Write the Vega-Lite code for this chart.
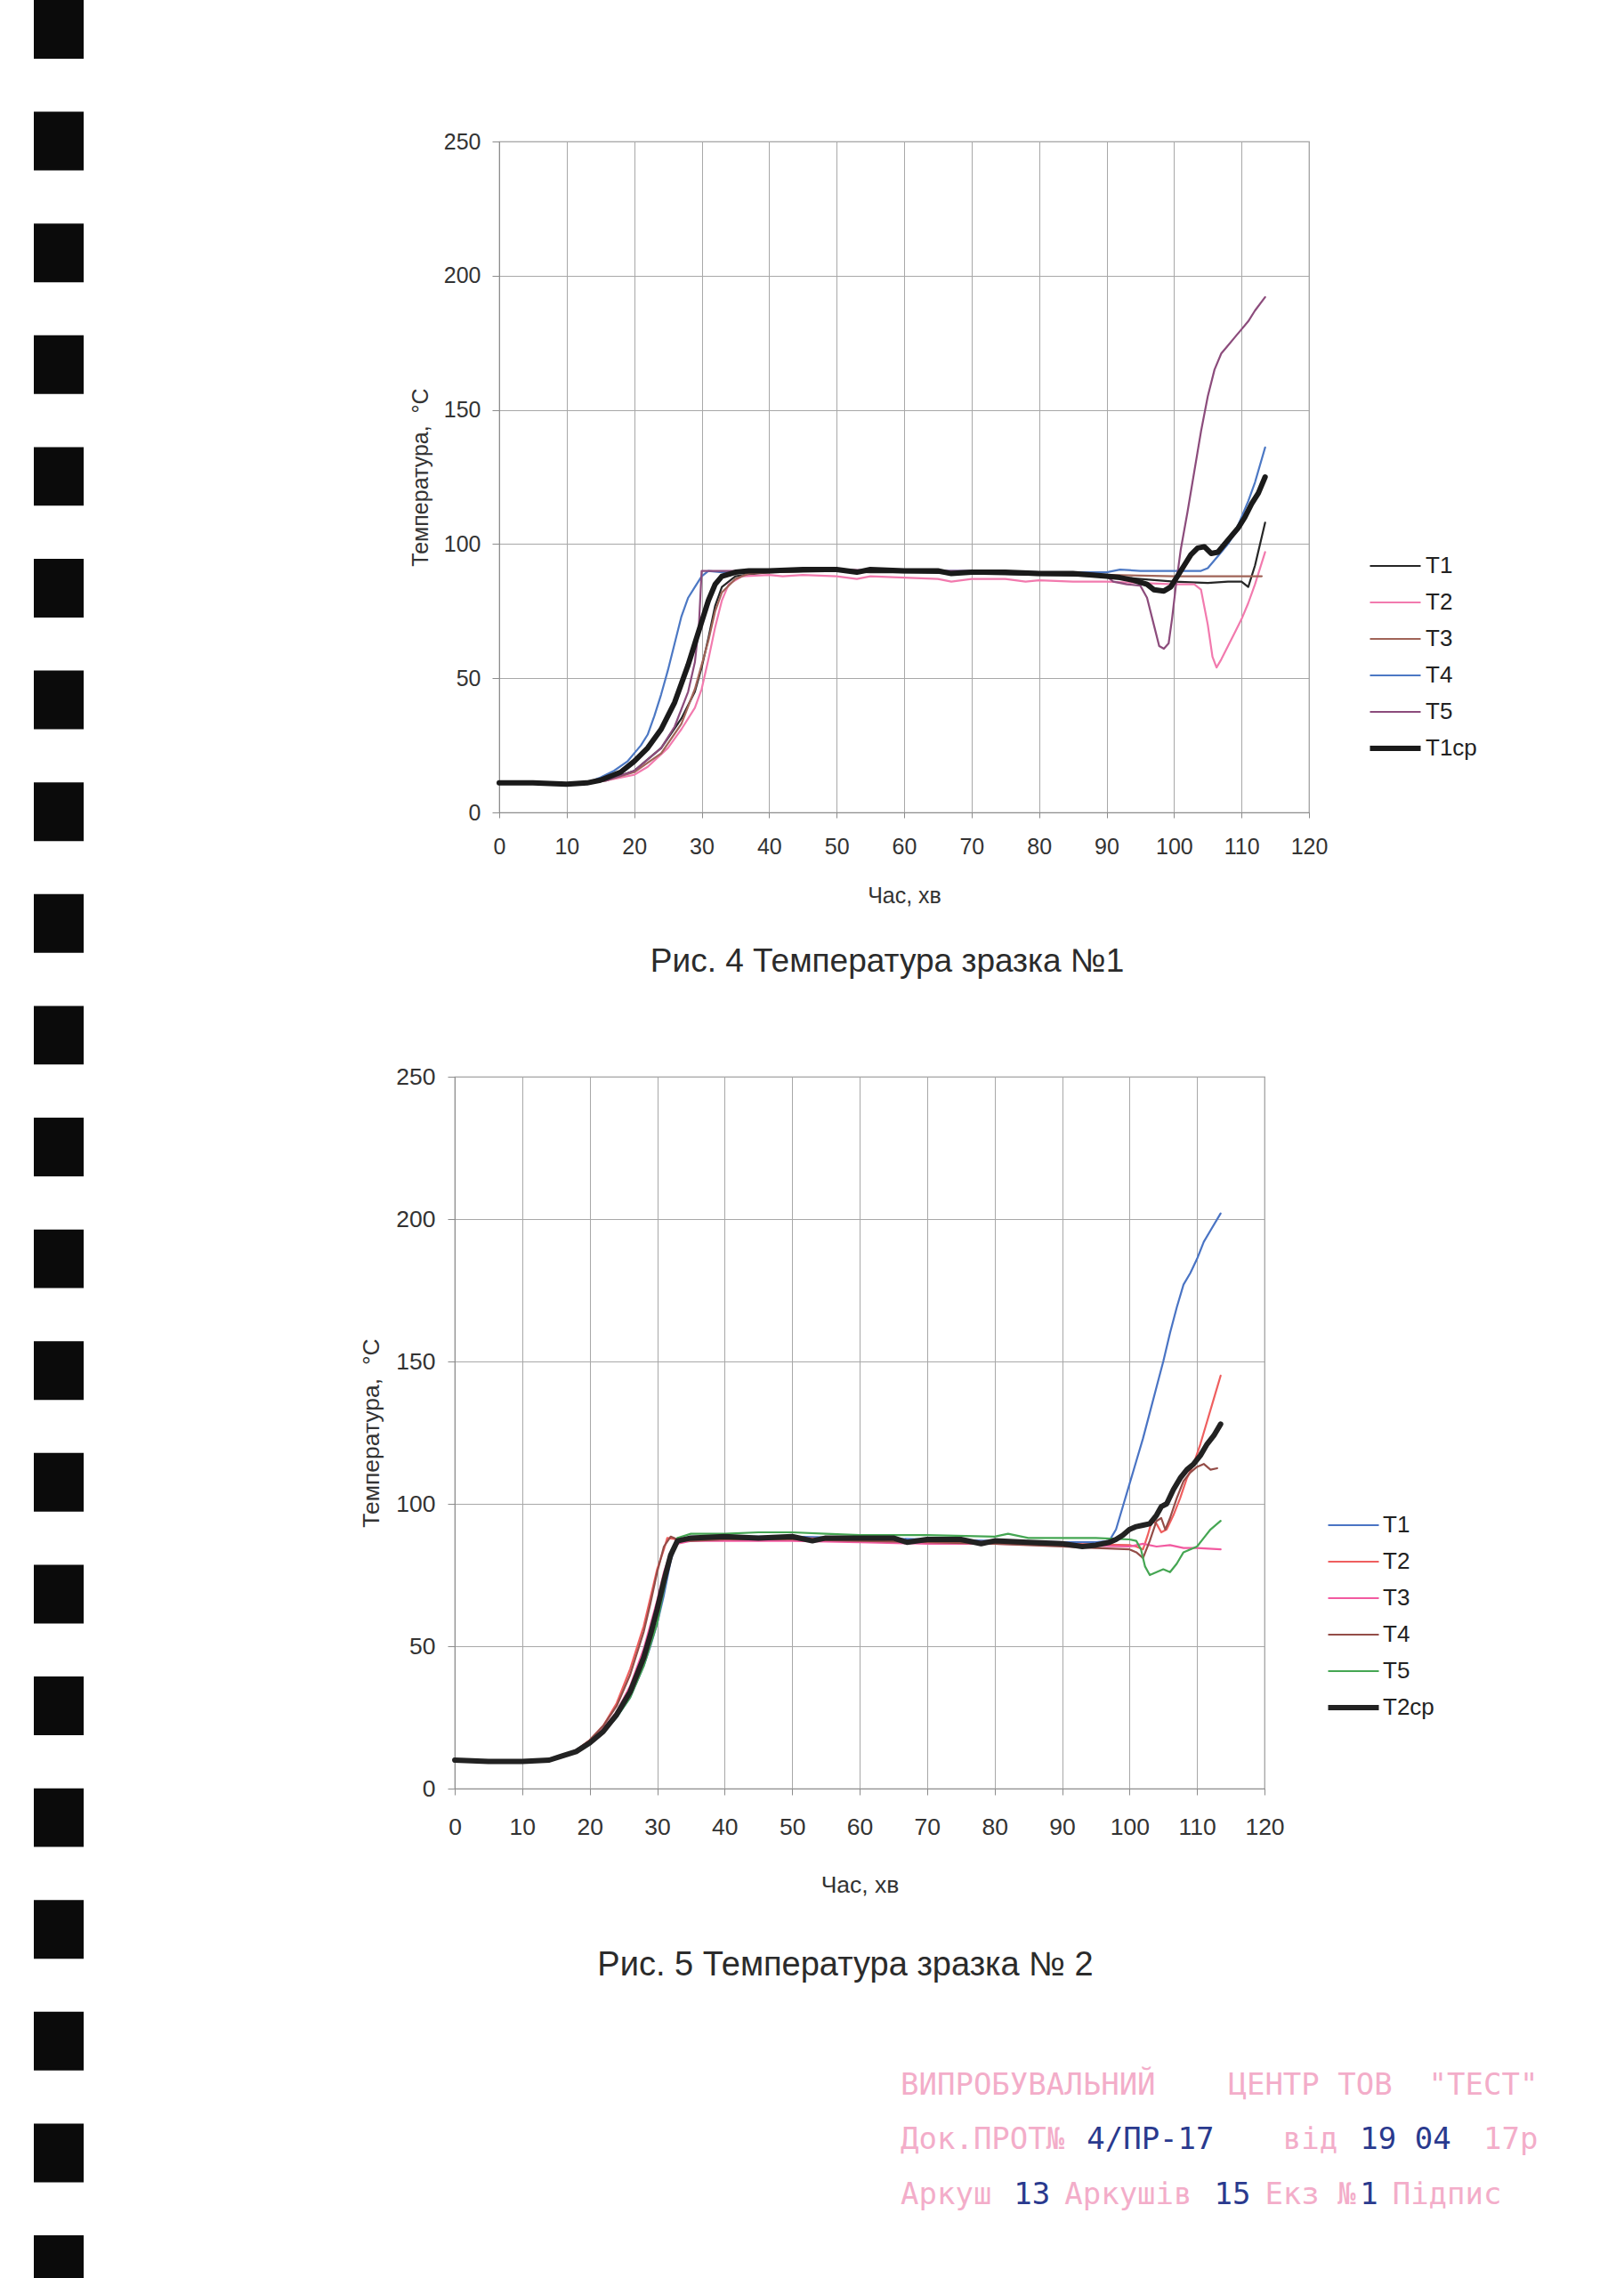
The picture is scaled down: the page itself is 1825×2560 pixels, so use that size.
{
  "$schema": "https://vega.github.io/schema/vega-lite/v6.json",
  "background": "white",
  "padding": {"left": 38, "top": 0, "right": 0, "bottom": 0},
  "datasets": {
    "holes": [
      {"hole": 1}, {"hole": 2}, {"hole": 3}, {"hole": 4}, {"hole": 5}, {"hole": 6}, {"hole": 7},
      {"hole": 8}, {"hole": 9}, {"hole": 10}, {"hole": 11}, {"hole": 12}, {"hole": 13}, {"hole": 14},
      {"hole": 15}, {"hole": 16}, {"hole": 17}, {"hole": 18}, {"hole": 19}, {"hole": 20}, {"hole": 21}
    ],
    "s1": [
      {"s": "T1", "t": 0, "T": 11}, {"s": "T1", "t": 5, "T": 11}, {"s": "T1", "t": 10, "T": 10.5}, {"s": "T1", "t": 13, "T": 11},
      {"s": "T1", "t": 16, "T": 12}, {"s": "T1", "t": 20, "T": 15.5}, {"s": "T1", "t": 24, "T": 24}, {"s": "T1", "t": 27, "T": 35},
      {"s": "T1", "t": 29, "T": 45}, {"s": "T1", "t": 30, "T": 54}, {"s": "T1", "t": 31, "T": 65}, {"s": "T1", "t": 32, "T": 77},
      {"s": "T1", "t": 33, "T": 84}, {"s": "T1", "t": 35, "T": 88}, {"s": "T1", "t": 38, "T": 89}, {"s": "T1", "t": 40, "T": 89.5},
      {"s": "T1", "t": 50, "T": 90}, {"s": "T1", "t": 55, "T": 89.5}, {"s": "T1", "t": 60, "T": 89.5}, {"s": "T1", "t": 70, "T": 89},
      {"s": "T1", "t": 80, "T": 88.5}, {"s": "T1", "t": 90, "T": 88}, {"s": "T1", "t": 95, "T": 87}, {"s": "T1", "t": 100, "T": 86},
      {"s": "T1", "t": 105, "T": 85.5}, {"s": "T1", "t": 108, "T": 86}, {"s": "T1", "t": 110, "T": 86}, {"s": "T1", "t": 111, "T": 84},
      {"s": "T1", "t": 112, "T": 92}, {"s": "T1", "t": 113.5, "T": 108},

      {"s": "T2", "t": 0, "T": 11}, {"s": "T2", "t": 5, "T": 11}, {"s": "T2", "t": 10, "T": 10.5}, {"s": "T2", "t": 13, "T": 11},
      {"s": "T2", "t": 16, "T": 12}, {"s": "T2", "t": 20, "T": 14}, {"s": "T2", "t": 22, "T": 17}, {"s": "T2", "t": 25, "T": 24},
      {"s": "T2", "t": 27, "T": 31}, {"s": "T2", "t": 29, "T": 39}, {"s": "T2", "t": 30, "T": 46}, {"s": "T2", "t": 31, "T": 57},
      {"s": "T2", "t": 32, "T": 69}, {"s": "T2", "t": 33, "T": 79}, {"s": "T2", "t": 34, "T": 85}, {"s": "T2", "t": 36, "T": 88},
      {"s": "T2", "t": 40, "T": 88.5}, {"s": "T2", "t": 42, "T": 88}, {"s": "T2", "t": 45, "T": 88.5}, {"s": "T2", "t": 50, "T": 88},
      {"s": "T2", "t": 53, "T": 87}, {"s": "T2", "t": 55, "T": 88}, {"s": "T2", "t": 60, "T": 87.5}, {"s": "T2", "t": 65, "T": 87},
      {"s": "T2", "t": 67, "T": 86}, {"s": "T2", "t": 70, "T": 87}, {"s": "T2", "t": 75, "T": 87}, {"s": "T2", "t": 78, "T": 86},
      {"s": "T2", "t": 80, "T": 86.5}, {"s": "T2", "t": 85, "T": 86}, {"s": "T2", "t": 90, "T": 86}, {"s": "T2", "t": 95, "T": 85.5},
      {"s": "T2", "t": 100, "T": 85}, {"s": "T2", "t": 103, "T": 85}, {"s": "T2", "t": 104, "T": 83}, {"s": "T2", "t": 105, "T": 70},
      {"s": "T2", "t": 105.7, "T": 58}, {"s": "T2", "t": 106.3, "T": 54}, {"s": "T2", "t": 107, "T": 57}, {"s": "T2", "t": 108, "T": 62},
      {"s": "T2", "t": 109, "T": 67}, {"s": "T2", "t": 110, "T": 72}, {"s": "T2", "t": 111, "T": 78}, {"s": "T2", "t": 112, "T": 85},
      {"s": "T2", "t": 113.5, "T": 97},

      {"s": "T3", "t": 0, "T": 11}, {"s": "T3", "t": 5, "T": 11}, {"s": "T3", "t": 10, "T": 10.5}, {"s": "T3", "t": 13, "T": 11},
      {"s": "T3", "t": 16, "T": 12}, {"s": "T3", "t": 20, "T": 15}, {"s": "T3", "t": 24, "T": 22}, {"s": "T3", "t": 27, "T": 33},
      {"s": "T3", "t": 29, "T": 46}, {"s": "T3", "t": 31, "T": 64}, {"s": "T3", "t": 32, "T": 75}, {"s": "T3", "t": 33, "T": 82},
      {"s": "T3", "t": 35, "T": 87}, {"s": "T3", "t": 37, "T": 89}, {"s": "T3", "t": 40, "T": 89.5}, {"s": "T3", "t": 45, "T": 90},
      {"s": "T3", "t": 50, "T": 90.5}, {"s": "T3", "t": 55, "T": 90}, {"s": "T3", "t": 60, "T": 90}, {"s": "T3", "t": 70, "T": 89.5},
      {"s": "T3", "t": 80, "T": 89}, {"s": "T3", "t": 90, "T": 88.5}, {"s": "T3", "t": 100, "T": 88}, {"s": "T3", "t": 105, "T": 88},
      {"s": "T3", "t": 110, "T": 88}, {"s": "T3", "t": 113, "T": 88},

      {"s": "T4", "t": 0, "T": 11}, {"s": "T4", "t": 5, "T": 11}, {"s": "T4", "t": 10, "T": 10.5}, {"s": "T4", "t": 13, "T": 11},
      {"s": "T4", "t": 15, "T": 13}, {"s": "T4", "t": 17, "T": 15.5}, {"s": "T4", "t": 19, "T": 19}, {"s": "T4", "t": 20, "T": 22},
      {"s": "T4", "t": 21, "T": 25}, {"s": "T4", "t": 22, "T": 29}, {"s": "T4", "t": 23, "T": 36}, {"s": "T4", "t": 24, "T": 44},
      {"s": "T4", "t": 25, "T": 53}, {"s": "T4", "t": 26, "T": 63}, {"s": "T4", "t": 27, "T": 73}, {"s": "T4", "t": 28, "T": 80},
      {"s": "T4", "t": 29, "T": 84}, {"s": "T4", "t": 30, "T": 88}, {"s": "T4", "t": 31, "T": 90}, {"s": "T4", "t": 33, "T": 89.5},
      {"s": "T4", "t": 35, "T": 89.5}, {"s": "T4", "t": 40, "T": 90}, {"s": "T4", "t": 50, "T": 90}, {"s": "T4", "t": 60, "T": 90},
      {"s": "T4", "t": 70, "T": 90}, {"s": "T4", "t": 80, "T": 89.5}, {"s": "T4", "t": 90, "T": 89.5}, {"s": "T4", "t": 92, "T": 90.5},
      {"s": "T4", "t": 95, "T": 90}, {"s": "T4", "t": 100, "T": 90}, {"s": "T4", "t": 104, "T": 90}, {"s": "T4", "t": 105, "T": 91},
      {"s": "T4", "t": 106, "T": 94}, {"s": "T4", "t": 107, "T": 97}, {"s": "T4", "t": 108, "T": 100}, {"s": "T4", "t": 109, "T": 104},
      {"s": "T4", "t": 110, "T": 110}, {"s": "T4", "t": 111, "T": 116}, {"s": "T4", "t": 112, "T": 123}, {"s": "T4", "t": 113.5, "T": 136},

      {"s": "T5", "t": 0, "T": 11}, {"s": "T5", "t": 5, "T": 11}, {"s": "T5", "t": 10, "T": 10.5}, {"s": "T5", "t": 13, "T": 11},
      {"s": "T5", "t": 16, "T": 12}, {"s": "T5", "t": 20, "T": 15.5}, {"s": "T5", "t": 24, "T": 24}, {"s": "T5", "t": 26, "T": 32},
      {"s": "T5", "t": 28, "T": 45}, {"s": "T5", "t": 29, "T": 56}, {"s": "T5", "t": 29.6, "T": 70}, {"s": "T5", "t": 30, "T": 90},
      {"s": "T5", "t": 33, "T": 90}, {"s": "T5", "t": 40, "T": 90}, {"s": "T5", "t": 50, "T": 90.5}, {"s": "T5", "t": 60, "T": 90},
      {"s": "T5", "t": 70, "T": 90}, {"s": "T5", "t": 80, "T": 89.5}, {"s": "T5", "t": 88, "T": 89}, {"s": "T5", "t": 90, "T": 88},
      {"s": "T5", "t": 91, "T": 86}, {"s": "T5", "t": 93, "T": 85}, {"s": "T5", "t": 95, "T": 84.5}, {"s": "T5", "t": 96, "T": 80},
      {"s": "T5", "t": 97, "T": 70}, {"s": "T5", "t": 97.8, "T": 62}, {"s": "T5", "t": 98.5, "T": 61}, {"s": "T5", "t": 99.2, "T": 63},
      {"s": "T5", "t": 99.7, "T": 72}, {"s": "T5", "t": 100.3, "T": 85}, {"s": "T5", "t": 101, "T": 98}, {"s": "T5", "t": 102, "T": 112},
      {"s": "T5", "t": 103, "T": 127}, {"s": "T5", "t": 104, "T": 142}, {"s": "T5", "t": 105, "T": 155}, {"s": "T5", "t": 106, "T": 165},
      {"s": "T5", "t": 107, "T": 171}, {"s": "T5", "t": 108, "T": 174}, {"s": "T5", "t": 109, "T": 177}, {"s": "T5", "t": 110, "T": 180},
      {"s": "T5", "t": 111, "T": 183}, {"s": "T5", "t": 112, "T": 187}, {"s": "T5", "t": 113.5, "T": 192},

      {"s": "T1ср", "t": 0, "T": 11}, {"s": "T1ср", "t": 5, "T": 11}, {"s": "T1ср", "t": 10, "T": 10.5}, {"s": "T1ср", "t": 13, "T": 11},
      {"s": "T1ср", "t": 15, "T": 12}, {"s": "T1ср", "t": 18, "T": 15}, {"s": "T1ср", "t": 20, "T": 19}, {"s": "T1ср", "t": 22, "T": 24},
      {"s": "T1ср", "t": 24, "T": 31}, {"s": "T1ср", "t": 26, "T": 41}, {"s": "T1ср", "t": 28, "T": 55}, {"s": "T1ср", "t": 29, "T": 63},
      {"s": "T1ср", "t": 30, "T": 71}, {"s": "T1ср", "t": 31, "T": 79}, {"s": "T1ср", "t": 32, "T": 85}, {"s": "T1ср", "t": 33, "T": 88},
      {"s": "T1ср", "t": 35, "T": 89.5}, {"s": "T1ср", "t": 37, "T": 90}, {"s": "T1ср", "t": 40, "T": 90}, {"s": "T1ср", "t": 45, "T": 90.5},
      {"s": "T1ср", "t": 50, "T": 90.5}, {"s": "T1ср", "t": 53, "T": 89.5}, {"s": "T1ср", "t": 55, "T": 90.5}, {"s": "T1ср", "t": 60, "T": 90},
      {"s": "T1ср", "t": 65, "T": 90}, {"s": "T1ср", "t": 67, "T": 89}, {"s": "T1ср", "t": 70, "T": 89.5}, {"s": "T1ср", "t": 75, "T": 89.5},
      {"s": "T1ср", "t": 80, "T": 89}, {"s": "T1ср", "t": 85, "T": 89}, {"s": "T1ср", "t": 90, "T": 88}, {"s": "T1ср", "t": 92, "T": 87.5},
      {"s": "T1ср", "t": 94, "T": 86.5}, {"s": "T1ср", "t": 96, "T": 85}, {"s": "T1ср", "t": 97, "T": 83}, {"s": "T1ср", "t": 98.5, "T": 82.5},
      {"s": "T1ср", "t": 99.5, "T": 84}, {"s": "T1ср", "t": 100.5, "T": 88}, {"s": "T1ср", "t": 101.5, "T": 92}, {"s": "T1ср", "t": 102.5, "T": 96},
      {"s": "T1ср", "t": 103.5, "T": 98.5}, {"s": "T1ср", "t": 104.5, "T": 99}, {"s": "T1ср", "t": 105.5, "T": 96.5}, {"s": "T1ср", "t": 106.5, "T": 97},
      {"s": "T1ср", "t": 107.5, "T": 100}, {"s": "T1ср", "t": 108.5, "T": 103}, {"s": "T1ср", "t": 109.5, "T": 106}, {"s": "T1ср", "t": 110.5, "T": 110},
      {"s": "T1ср", "t": 111.5, "T": 115}, {"s": "T1ср", "t": 112.5, "T": 119}, {"s": "T1ср", "t": 113.5, "T": 125}
    ],
    "s2": [
      {"s": "T1", "t": 0, "T": 10}, {"s": "T1", "t": 5, "T": 9.5}, {"s": "T1", "t": 10, "T": 9.5}, {"s": "T1", "t": 14, "T": 10},
      {"s": "T1", "t": 16, "T": 11.5}, {"s": "T1", "t": 18, "T": 13}, {"s": "T1", "t": 20, "T": 16}, {"s": "T1", "t": 22, "T": 20},
      {"s": "T1", "t": 24, "T": 25}, {"s": "T1", "t": 26, "T": 32}, {"s": "T1", "t": 28, "T": 43}, {"s": "T1", "t": 29, "T": 50},
      {"s": "T1", "t": 30, "T": 58}, {"s": "T1", "t": 31, "T": 68}, {"s": "T1", "t": 32, "T": 80}, {"s": "T1", "t": 33, "T": 87},
      {"s": "T1", "t": 35, "T": 88.5}, {"s": "T1", "t": 40, "T": 88.5}, {"s": "T1", "t": 50, "T": 88.5}, {"s": "T1", "t": 60, "T": 88},
      {"s": "T1", "t": 70, "T": 87.5}, {"s": "T1", "t": 80, "T": 87}, {"s": "T1", "t": 90, "T": 86.5}, {"s": "T1", "t": 95, "T": 86.5},
      {"s": "T1", "t": 97, "T": 87}, {"s": "T1", "t": 98, "T": 91}, {"s": "T1", "t": 99, "T": 99}, {"s": "T1", "t": 100, "T": 107},
      {"s": "T1", "t": 101, "T": 115}, {"s": "T1", "t": 102, "T": 123}, {"s": "T1", "t": 103, "T": 132}, {"s": "T1", "t": 104, "T": 141},
      {"s": "T1", "t": 105, "T": 150}, {"s": "T1", "t": 106, "T": 160}, {"s": "T1", "t": 107, "T": 169}, {"s": "T1", "t": 108, "T": 177},
      {"s": "T1", "t": 109, "T": 181}, {"s": "T1", "t": 110, "T": 186}, {"s": "T1", "t": 111, "T": 192}, {"s": "T1", "t": 112, "T": 196},
      {"s": "T1", "t": 113.5, "T": 202},

      {"s": "T2", "t": 0, "T": 10}, {"s": "T2", "t": 5, "T": 9.5}, {"s": "T2", "t": 10, "T": 9.5}, {"s": "T2", "t": 14, "T": 10},
      {"s": "T2", "t": 16, "T": 11.5}, {"s": "T2", "t": 18, "T": 13.5}, {"s": "T2", "t": 20, "T": 17}, {"s": "T2", "t": 22, "T": 22},
      {"s": "T2", "t": 24, "T": 30}, {"s": "T2", "t": 26, "T": 42}, {"s": "T2", "t": 28, "T": 57}, {"s": "T2", "t": 29, "T": 67},
      {"s": "T2", "t": 30, "T": 77}, {"s": "T2", "t": 31, "T": 84}, {"s": "T2", "t": 31.5, "T": 88}, {"s": "T2", "t": 33, "T": 87.5},
      {"s": "T2", "t": 35, "T": 88}, {"s": "T2", "t": 40, "T": 88}, {"s": "T2", "t": 50, "T": 88}, {"s": "T2", "t": 60, "T": 87.5},
      {"s": "T2", "t": 70, "T": 87}, {"s": "T2", "t": 80, "T": 86.5}, {"s": "T2", "t": 90, "T": 86}, {"s": "T2", "t": 100, "T": 85.5},
      {"s": "T2", "t": 101, "T": 85}, {"s": "T2", "t": 102, "T": 84}, {"s": "T2", "t": 102.7, "T": 89}, {"s": "T2", "t": 103.3, "T": 94},
      {"s": "T2", "t": 104, "T": 93}, {"s": "T2", "t": 104.7, "T": 90}, {"s": "T2", "t": 105.5, "T": 91}, {"s": "T2", "t": 106.5, "T": 96},
      {"s": "T2", "t": 107.5, "T": 102}, {"s": "T2", "t": 108.5, "T": 109}, {"s": "T2", "t": 109.5, "T": 114}, {"s": "T2", "t": 110.5, "T": 121},
      {"s": "T2", "t": 111.5, "T": 129}, {"s": "T2", "t": 112.5, "T": 137}, {"s": "T2", "t": 113.5, "T": 145},

      {"s": "T3", "t": 0, "T": 10}, {"s": "T3", "t": 5, "T": 9.5}, {"s": "T3", "t": 10, "T": 9.5}, {"s": "T3", "t": 14, "T": 10},
      {"s": "T3", "t": 16, "T": 11.5}, {"s": "T3", "t": 18, "T": 13}, {"s": "T3", "t": 20, "T": 16}, {"s": "T3", "t": 22, "T": 21},
      {"s": "T3", "t": 24, "T": 27}, {"s": "T3", "t": 26, "T": 36}, {"s": "T3", "t": 28, "T": 49}, {"s": "T3", "t": 30, "T": 66},
      {"s": "T3", "t": 31, "T": 76}, {"s": "T3", "t": 32, "T": 83}, {"s": "T3", "t": 33, "T": 86}, {"s": "T3", "t": 35, "T": 87},
      {"s": "T3", "t": 40, "T": 87}, {"s": "T3", "t": 50, "T": 87}, {"s": "T3", "t": 60, "T": 86.5}, {"s": "T3", "t": 70, "T": 86},
      {"s": "T3", "t": 80, "T": 86}, {"s": "T3", "t": 90, "T": 85.5}, {"s": "T3", "t": 100, "T": 85}, {"s": "T3", "t": 102, "T": 86},
      {"s": "T3", "t": 104, "T": 85}, {"s": "T3", "t": 106, "T": 85.5}, {"s": "T3", "t": 108, "T": 84.5}, {"s": "T3", "t": 110, "T": 84.5},
      {"s": "T3", "t": 113.5, "T": 84},

      {"s": "T4", "t": 0, "T": 10}, {"s": "T4", "t": 5, "T": 9.5}, {"s": "T4", "t": 10, "T": 9.5}, {"s": "T4", "t": 14, "T": 10},
      {"s": "T4", "t": 16, "T": 11.5}, {"s": "T4", "t": 18, "T": 13.5}, {"s": "T4", "t": 20, "T": 17}, {"s": "T4", "t": 22, "T": 22},
      {"s": "T4", "t": 24, "T": 29}, {"s": "T4", "t": 26, "T": 40}, {"s": "T4", "t": 28, "T": 55}, {"s": "T4", "t": 29, "T": 65},
      {"s": "T4", "t": 30, "T": 76}, {"s": "T4", "t": 31, "T": 85}, {"s": "T4", "t": 32, "T": 88.5}, {"s": "T4", "t": 33, "T": 87.5},
      {"s": "T4", "t": 35, "T": 87}, {"s": "T4", "t": 40, "T": 87.5}, {"s": "T4", "t": 50, "T": 87.5}, {"s": "T4", "t": 60, "T": 87},
      {"s": "T4", "t": 70, "T": 86.5}, {"s": "T4", "t": 80, "T": 86}, {"s": "T4", "t": 90, "T": 85}, {"s": "T4", "t": 95, "T": 84.5},
      {"s": "T4", "t": 100, "T": 84}, {"s": "T4", "t": 101, "T": 83}, {"s": "T4", "t": 102, "T": 81}, {"s": "T4", "t": 103, "T": 87},
      {"s": "T4", "t": 104, "T": 94}, {"s": "T4", "t": 104.7, "T": 95}, {"s": "T4", "t": 105.3, "T": 91}, {"s": "T4", "t": 106, "T": 95},
      {"s": "T4", "t": 107, "T": 102}, {"s": "T4", "t": 108, "T": 108}, {"s": "T4", "t": 109, "T": 111}, {"s": "T4", "t": 110, "T": 113},
      {"s": "T4", "t": 111, "T": 114}, {"s": "T4", "t": 112, "T": 112}, {"s": "T4", "t": 113, "T": 112.5},

      {"s": "T5", "t": 0, "T": 10}, {"s": "T5", "t": 5, "T": 9.5}, {"s": "T5", "t": 10, "T": 9.5}, {"s": "T5", "t": 14, "T": 10},
      {"s": "T5", "t": 16, "T": 11.5}, {"s": "T5", "t": 18, "T": 13}, {"s": "T5", "t": 20, "T": 16}, {"s": "T5", "t": 22, "T": 20},
      {"s": "T5", "t": 24, "T": 25}, {"s": "T5", "t": 26, "T": 32}, {"s": "T5", "t": 28, "T": 43}, {"s": "T5", "t": 30, "T": 58},
      {"s": "T5", "t": 31, "T": 70}, {"s": "T5", "t": 32, "T": 82}, {"s": "T5", "t": 33, "T": 88}, {"s": "T5", "t": 35, "T": 89.5},
      {"s": "T5", "t": 40, "T": 89.5}, {"s": "T5", "t": 45, "T": 90}, {"s": "T5", "t": 50, "T": 90}, {"s": "T5", "t": 55, "T": 89.5},
      {"s": "T5", "t": 60, "T": 89}, {"s": "T5", "t": 70, "T": 89}, {"s": "T5", "t": 80, "T": 88.5}, {"s": "T5", "t": 82, "T": 89.5},
      {"s": "T5", "t": 85, "T": 88}, {"s": "T5", "t": 90, "T": 88}, {"s": "T5", "t": 95, "T": 88}, {"s": "T5", "t": 100, "T": 87.5},
      {"s": "T5", "t": 101, "T": 87}, {"s": "T5", "t": 101.7, "T": 84}, {"s": "T5", "t": 102.3, "T": 78}, {"s": "T5", "t": 103, "T": 75},
      {"s": "T5", "t": 104, "T": 76}, {"s": "T5", "t": 105, "T": 77}, {"s": "T5", "t": 106, "T": 76}, {"s": "T5", "t": 107, "T": 79},
      {"s": "T5", "t": 108, "T": 83}, {"s": "T5", "t": 109, "T": 84}, {"s": "T5", "t": 110, "T": 85}, {"s": "T5", "t": 111, "T": 88},
      {"s": "T5", "t": 112, "T": 91}, {"s": "T5", "t": 113.5, "T": 94},

      {"s": "T2ср", "t": 0, "T": 10}, {"s": "T2ср", "t": 5, "T": 9.5}, {"s": "T2ср", "t": 10, "T": 9.5}, {"s": "T2ср", "t": 14, "T": 10},
      {"s": "T2ср", "t": 16, "T": 11.5}, {"s": "T2ср", "t": 18, "T": 13}, {"s": "T2ср", "t": 20, "T": 16}, {"s": "T2ср", "t": 22, "T": 20},
      {"s": "T2ср", "t": 24, "T": 26}, {"s": "T2ср", "t": 26, "T": 34}, {"s": "T2ср", "t": 28, "T": 46}, {"s": "T2ср", "t": 29, "T": 54},
      {"s": "T2ср", "t": 30, "T": 63}, {"s": "T2ср", "t": 31, "T": 73}, {"s": "T2ср", "t": 32, "T": 82}, {"s": "T2ср", "t": 33, "T": 87},
      {"s": "T2ср", "t": 35, "T": 88}, {"s": "T2ср", "t": 40, "T": 88.5}, {"s": "T2ср", "t": 45, "T": 88}, {"s": "T2ср", "t": 50, "T": 88.5},
      {"s": "T2ср", "t": 53, "T": 87}, {"s": "T2ср", "t": 55, "T": 88}, {"s": "T2ср", "t": 60, "T": 88}, {"s": "T2ср", "t": 65, "T": 88},
      {"s": "T2ср", "t": 67, "T": 86.5}, {"s": "T2ср", "t": 70, "T": 87.5}, {"s": "T2ср", "t": 75, "T": 87.5}, {"s": "T2ср", "t": 78, "T": 86},
      {"s": "T2ср", "t": 80, "T": 87}, {"s": "T2ср", "t": 85, "T": 86.5}, {"s": "T2ср", "t": 90, "T": 86}, {"s": "T2ср", "t": 93, "T": 85},
      {"s": "T2ср", "t": 95, "T": 85.5}, {"s": "T2ср", "t": 97, "T": 86.5}, {"s": "T2ср", "t": 98, "T": 87.5}, {"s": "T2ср", "t": 99, "T": 89},
      {"s": "T2ср", "t": 100, "T": 91}, {"s": "T2ср", "t": 101, "T": 92}, {"s": "T2ср", "t": 102, "T": 92.5}, {"s": "T2ср", "t": 103, "T": 93},
      {"s": "T2ср", "t": 104, "T": 96}, {"s": "T2ср", "t": 104.7, "T": 99}, {"s": "T2ср", "t": 105.5, "T": 100}, {"s": "T2ср", "t": 106.5, "T": 105},
      {"s": "T2ср", "t": 107.5, "T": 109}, {"s": "T2ср", "t": 108.5, "T": 112}, {"s": "T2ср", "t": 109.5, "T": 114}, {"s": "T2ср", "t": 110.5, "T": 117},
      {"s": "T2ср", "t": 111.5, "T": 121}, {"s": "T2ср", "t": 112.5, "T": 124}, {"s": "T2ср", "t": 113.5, "T": 128}
    ],
    "stamp": [
      {"line": 1, "ink": "штамп", "text": "ВИПРОБУВАЛЬНИЙ\u00a0\u00a0\u00a0\u00a0ЦЕНТР\u00a0ТОВ\u00a0\u00a0\"ТЕСТ\""},
      {"line": 2, "ink": "штамп", "text": "Док.ПРОТ№\u00a0\u00a0\u00a0\u00a0\u00a0\u00a0\u00a0\u00a0\u00a0\u00a0\u00a0\u00a0від\u00a0\u00a0\u00a0\u00a0\u00a0\u00a0\u00a0\u00a017р"},
      {"line": 2, "ink": "ручка", "text": "\u2800\u00a0\u00a0\u00a0\u00a0\u00a0\u00a0\u00a0\u00a0\u00a04/ПР-17\u00a0\u00a0\u00a0\u00a0\u00a0\u00a0\u00a0\u00a019\u00a004"},
      {"line": 3, "ink": "штамп", "text": "Аркуш\u00a0\u00a0\u00a0\u00a0Аркушів\u00a0\u00a0\u00a0\u00a0Екз\u00a0№\u00a0\u00a0Підпис"},
      {"line": 3, "ink": "ручка", "text": "\u2800\u00a0\u00a0\u00a0\u00a0\u00a013\u00a0\u00a0\u00a0\u00a0\u00a0\u00a0\u00a0\u00a0\u00a015\u00a0\u00a0\u00a0\u00a0\u00a0\u00a01"}
    ]
  },
  "spacing": 310,
  "resolve": {"scale": {"color": "independent", "y": "independent"}, "legend": {"color": "independent"}},
  "hconcat": [
    {
      "width": 56,
      "height": 2578,
      "view": {"stroke": null},
      "data": {"name": "holes"},
      "mark": {"type": "rect", "color": "#0b0b0b"},
      "encoding": {
        "y": {"field": "hole", "type": "ordinal", "axis": null, "scale": {"paddingInner": 0.475, "paddingOuter": 0}}
      }
    },
    {
      "spacing": 96,
      "resolve": {"scale": {"color": "independent", "x": "independent", "y": "independent"}, "legend": {"color": "independent"}},
      "vconcat": [
        {"width": 10, "height": 49.5, "view": {"stroke": null}, "data": {"values": []}, "mark": "point"},
        {
          "spacing": 0,
          "bounds": "flush",
          "resolve": {"scale": {"color": "independent", "x": "independent", "y": "independent"}, "legend": {"color": "independent"}},
          "hconcat": [
            {"width": 50, "height": 10, "view": {"stroke": null}, "data": {"values": []}, "mark": "point"},
            {
              "width": 910,
              "height": 754,
              "data": {"name": "s1"},
              "title": {"text": "Рис. 4 Температура зразка №1", "orient": "bottom", "anchor": "middle", "fontSize": 37, "offset": 44, "dx": -19},
              "encoding": {
                "x": {
                  "field": "t", "type": "quantitative",
                  "scale": {"domain": [0, 120], "nice": false},
                  "axis": {"title": "Час, хв", "values": [0, 10, 20, 30, 40, 50, 60, 70, 80, 90, 100, 110, 120], "tickSize": 6, "labelPadding": 20, "titlePadding": 30}
                },
                "y": {
                  "field": "T", "type": "quantitative",
                  "scale": {"domain": [0, 250], "nice": false},
                  "axis": {"title": "Температура,\u00a0 °C", "values": [0, 50, 100, 150, 200, 250], "tickSize": 8, "labelPadding": 13, "titlePadding": 13}
                },
                "color": {
                  "field": "s", "type": "nominal",
                  "scale": {"domain": ["T1", "T2", "T3", "T4", "T5", "T1ср"], "range": ["#262626", "#f27aae", "#a06458", "#4c78c4", "#8c4c7c", "#1a1a1a"]},
                  "legend": {
                    "title": null, "orient": "none", "legendX": 994, "legendY": 464,
                    "symbolType": "stroke", "symbolSize": 3249, "rowPadding": 15, "labelOffset": 21,
                    "encode": {"symbols": {"update": {"strokeWidth": {"signal": "datum.value === 'T1ср' ? 6 : 2.2"}}}}
                  }
                }
              },
              "layer": [
                {
                  "transform": [{"filter": "datum.s !== 'T1ср'"}],
                  "mark": {"type": "line", "strokeWidth": 2.2, "strokeJoin": "round", "strokeCap": "round"}
                },
                {
                  "transform": [{"filter": "datum.s === 'T1ср'"}],
                  "mark": {"type": "line", "strokeWidth": 6, "strokeJoin": "round", "strokeCap": "round"}
                }
              ]
            }
          ]
        },
        {
          "width": 910,
          "height": 800,
          "data": {"name": "s2"},
          "title": {"text": "Рис. 5 Температура зразка № 2", "orient": "bottom", "anchor": "middle", "fontSize": 38, "offset": 58, "dx": -16},
          "encoding": {
            "x": {
              "field": "t", "type": "quantitative",
              "scale": {"domain": [0, 120], "nice": false},
              "axis": {"title": "Час, хв", "values": [0, 10, 20, 30, 40, 50, 60, 70, 80, 90, 100, 110, 120], "tickSize": 7, "labelPadding": 23, "titlePadding": 39, "labelFontSize": 26.5, "titleFontSize": 26.5}
            },
            "y": {
              "field": "T", "type": "quantitative",
              "scale": {"domain": [0, 250], "nice": false},
              "axis": {"title": "Температура,\u00a0 °C", "values": [0, 50, 100, 150, 200, 250], "tickSize": 8, "labelPadding": 14, "titlePadding": 13, "labelFontSize": 26.5, "titleFontSize": 26.5}
            },
            "color": {
              "field": "s", "type": "nominal",
              "scale": {"domain": ["T1", "T2", "T3", "T4", "T5", "T2ср"], "range": ["#4a74c4", "#ef5f5f", "#f25aa0", "#944d48", "#45a653", "#222222"]},
              "legend": {
                "title": null, "orient": "none", "legendX": 997, "legendY": 491,
                "symbolType": "stroke", "symbolSize": 3249, "rowPadding": 15, "labelOffset": 20,
                "encode": {"symbols": {"update": {"strokeWidth": {"signal": "datum.value === 'T2ср' ? 6 : 2.2"}}}}
              }
            }
          },
          "layer": [
            {
              "transform": [{"filter": "datum.s !== 'T2ср'"}],
              "mark": {"type": "line", "strokeWidth": 2.2, "strokeJoin": "round", "strokeCap": "round"}
            },
            {
              "transform": [{"filter": "datum.s === 'T2ср'"}],
              "mark": {"type": "line", "strokeWidth": 6, "strokeJoin": "round", "strokeCap": "round"}
            }
          ]
        },
        {
          "spacing": 0,
          "resolve": {"scale": {"color": "independent", "y": "independent"}},
          "hconcat": [
            {"width": 500, "height": 10, "view": {"stroke": null}, "data": {"values": []}, "mark": "point"},
            {
              "width": 2,
              "height": 184.5,
              "view": {"stroke": null},
              "data": {"name": "stamp"},
              "mark": {"type": "text", "align": "left", "baseline": "middle", "font": "DejaVu Sans Mono", "fontSize": 34, "dy": -12},
              "encoding": {
                "y": {"field": "line", "type": "ordinal", "axis": null},
                "text": {"field": "text"},
                "color": {"field": "ink", "type": "nominal", "scale": {"domain": ["штамп", "ручка"], "range": ["#f3adc9", "#2a3a8e"]}, "legend": null}
              }
            }
          ]
        }
      ]
    }
  ],
  "config": {
    "font": "Liberation Sans",
    "view": {"stroke": "#8c8c8c", "strokeWidth": 1.2},
    "title": {"font": "Liberation Sans", "fontWeight": "normal", "color": "#2b2b2b"},
    "axis": {
      "labelFont": "Liberation Sans", "labelFontSize": 25, "labelColor": "#333333",
      "titleFont": "Liberation Sans", "titleFontSize": 25, "titleFontWeight": "normal", "titleColor": "#333333",
      "gridColor": "#a8a8a8", "gridWidth": 1, "domainColor": "#8c8c8c", "tickColor": "#8c8c8c", "labelFlush": false
    },
    "legend": {
      "symbolType": "stroke", "symbolSize": 3249, "labelFont": "Liberation Sans", "labelFontSize": 26,
      "labelColor": "#222222", "rowPadding": 15, "labelOffset": 21, "padding": 0
    }
  }
}
